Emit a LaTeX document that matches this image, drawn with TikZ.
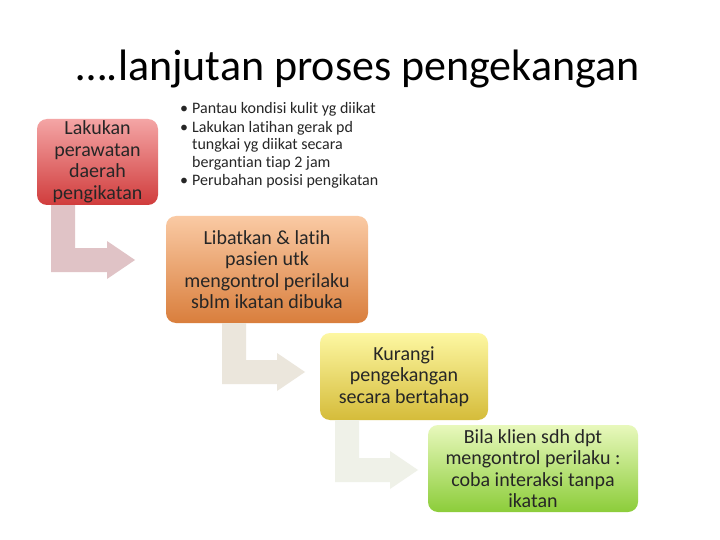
\documentclass[tikz,border=0pt]{standalone}
\usepackage{fontspec}
\setmainfont{Carlito}[Ligatures=NoCommon]
\usepackage{xcolor}
\usetikzlibrary{positioning, calc}

\definecolor{redtop}{HTML}{F4A5A5}
\definecolor{redbot}{HTML}{D03C3C}
\definecolor{orangetop}{HTML}{FACAA4}
\definecolor{orangebot}{HTML}{D97E3C}
\definecolor{yellowtop}{HTML}{FDF7A2}
\definecolor{yellowbot}{HTML}{D5BC3A}
\definecolor{greentop}{HTML}{E8F8BC}
\definecolor{greenbot}{HTML}{8CCD3A}
\definecolor{turnred}{HTML}{E0C3C6}
\definecolor{turnorange}{HTML}{EBE6DC}
\definecolor{turnyellow}{HTML}{EFF1E8}

\tikzset{
  stage/.style={rectangle, rounded corners=10pt, align=center, inner sep=2pt,
    text=black!85, font=\fontsize{20}{21.5}\selectfont},
}

% bullet with a hanging indent
\newcommand{\bul}{\makebox[12pt][l]{•}}
\newcommand{\hang}{\hspace*{12pt}}

% bent arrow: from node, bar left x, centre y of the foot, tip x, colour
\newcommand{\turnarrow}[5]{%
  \fill[#5] (#2,0 |- #1.south) -- ++(24,0) |- (#4-28,#3-12) -- (#4-28,#3-19)
    -- (#4,#3) -- (#4-28,#3+19) -- (#4-28,#3+12) -- (#2,#3+12) -- cycle;}

\begin{document}
\begin{tikzpicture}[x=1pt, y=-1pt]
\useasboundingbox[fill=white] (0,0) rectangle (720,540);

\node[anchor=base, font=\fontsize{44}{50}\selectfont] (title) at (358,81) {….lanjutan proses pengekangan};

\node[stage, top color=redtop, bottom color=redbot, minimum width=121pt, minimum height=86pt] (lakukan) at (97.5,162) {Lakukan\\perawatan\\daerah\\pengikatan};
\node[stage, top color=orangetop, bottom color=orangebot, minimum width=202pt, minimum height=107pt] (libatkan) at (267,269.5) {Libatkan \& latih\\pasien utk\\mengontrol perilaku\\sblm ikatan dibuka};
\node[stage, top color=yellowtop, bottom color=yellowbot, minimum width=168pt, minimum height=87pt] (kurangi) at (404,376.5) {Kurangi\\pengekangan\\secara bertahap};
\node[stage, top color=greentop, bottom color=greenbot, minimum width=210pt, minimum height=87pt] (bila) at (533,468.5) {Bila klien sdh dpt\\mengontrol perilaku :\\coba interaksi tanpa\\ikatan};

\node[anchor=base west, align=left, inner sep=0pt, text=black!85, font=\fontsize{16}{17.3}\selectfont] (rincian) at (180,185.6)
  {\bul Pantau kondisi kulit yg diikat\\[1.2pt]
   \bul Lakukan latihan gerak pd\\
   \hang tungkai yg diikat secara\\
   \hang bergantian tiap 2 jam\\[1.2pt]
   \bul Perubahan posisi pengikatan};

\turnarrow{lakukan}{51}{260}{135}{turnred}
\turnarrow{libatkan}{222}{372}{305}{turnorange}
\turnarrow{kurangi}{335}{470}{418}{turnyellow}
\end{tikzpicture}
\end{document}
